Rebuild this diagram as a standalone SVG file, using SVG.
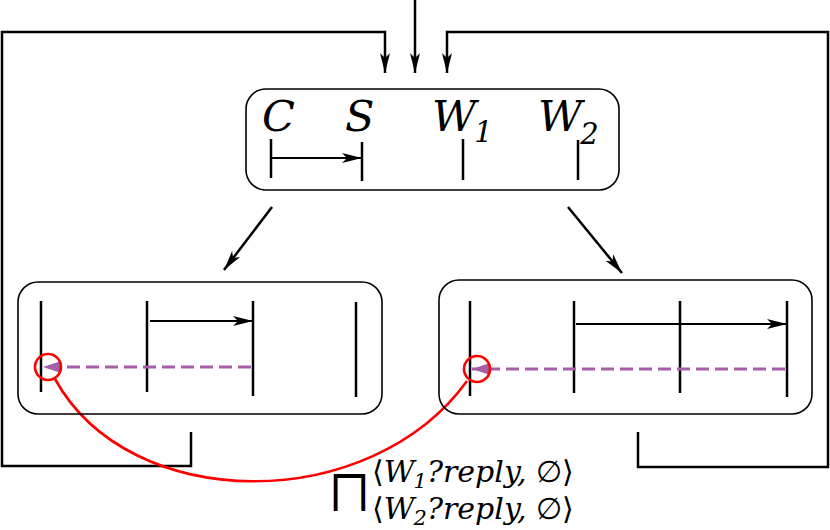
<svg xmlns="http://www.w3.org/2000/svg" width="830" height="530" viewBox="0 0 830 530">
<defs>
<marker id="ah" markerUnits="userSpaceOnUse" markerWidth="24" markerHeight="14" refX="20" refY="7" orient="auto" overflow="visible">
<path d="M0,2 L20,7 L0,12 L5,7 z" fill="#000"/>
</marker>
<marker id="ap" markerUnits="userSpaceOnUse" markerWidth="20" markerHeight="14" refX="18" refY="7" orient="auto" overflow="visible">
<path d="M0,1 L18,7 L0,13 z" fill="#a55ea8"/>
</marker>
</defs>
<style>
.box{fill:none;stroke:#000;stroke-width:1.6}
.ll{stroke:#000;stroke-width:2.5;fill:none}
.msg{stroke:#000;stroke-width:2.2;fill:none;marker-end:url(#ah)}
.rep{stroke:#a55ea8;stroke-width:3;fill:none;stroke-dasharray:13 6;marker-end:url(#ap)}
.con{stroke:#000;stroke-width:2.5;fill:none}
.lab{font-family:"DejaVu Serif",serif;font-style:italic;fill:#000}
.red{stroke:#f00;stroke-width:2.6;fill:none}
</style>
<g id="connectors">
<path class="con" d="M415,0 L415,73" marker-end="url(#ah)"/>
<path class="con" d="M191,432 L191,466 L2,466 L2,32 L385,32 L385,73" marker-end="url(#ah)"/>
<path class="con" d="M638,432 L638,467 L828,467 L828,32 L447,32 L447,73" marker-end="url(#ah)"/>
<path class="con" d="M272,207 L224,270" marker-end="url(#ah)"/>
<path class="con" d="M568,207 L622,273" marker-end="url(#ah)"/>
<path class="red" d="M55,379 C130,515 370,515 467,381"/>
</g>
<g id="top">
<rect class="box" x="246" y="89" width="373" height="101" rx="20"/>
<text class="lab" x="262" y="131" font-size="43">C</text>
<text class="lab" x="345" y="131" font-size="43">S</text>
<text class="lab" x="432" y="131" font-size="43">W<tspan font-size="29" dy="11" dx="-2">1</tspan></text>
<text class="lab" x="538" y="131" font-size="43">W<tspan font-size="29" dy="13" dx="-2">2</tspan></text>
<line class="ll" x1="271" y1="139" x2="271" y2="178"/>
<line class="ll" x1="362" y1="142" x2="362" y2="181"/>
<line class="ll" x1="463" y1="139" x2="463" y2="180"/>
<line class="ll" x1="578" y1="140" x2="578" y2="180"/>
<line class="msg" x1="271" y1="158" x2="362" y2="158"/>
</g>
<g id="left">
<rect class="box" x="18" y="282" width="364" height="132" rx="20"/>
<line class="ll" x1="41" y1="301" x2="41" y2="392"/>
<line class="ll" x1="147" y1="301" x2="147" y2="392"/>
<line class="ll" x1="253" y1="301" x2="253" y2="396"/>
<line class="ll" x1="356" y1="302" x2="356" y2="397"/>
<line class="msg" x1="150" y1="321" x2="253" y2="321"/>
<line class="rep" x1="251" y1="367" x2="43" y2="367"/>
<circle class="red" cx="48" cy="367" r="13"/>
</g>
<g id="right">
<rect class="box" x="439" y="280" width="373" height="134" rx="20"/>
<line class="ll" x1="470" y1="301" x2="470" y2="396"/>
<line class="ll" x1="574" y1="301" x2="574" y2="393"/>
<line class="ll" x1="680" y1="301" x2="680" y2="393"/>
<line class="ll" x1="787" y1="301" x2="787" y2="397"/>
<line class="msg" x1="576" y1="324" x2="787" y2="324"/>
<line class="rep" x1="785" y1="369" x2="472" y2="369"/>
<circle class="red" cx="477" cy="369" r="13"/>
</g>
<g id="label">
<text x="331" y="508" font-family="DejaVu Sans,sans-serif" font-size="46">⨅</text>
<text class="lab" x="372" y="482" font-size="30"><tspan font-style="normal">⟨</tspan>W<tspan font-size="21" dy="6" dx="-1">1</tspan><tspan dy="-6">?reply, </tspan><tspan font-style="normal">∅⟩</tspan></text>
<text class="lab" x="372" y="519" font-size="30"><tspan font-style="normal">⟨</tspan>W<tspan font-size="21" dy="6" dx="-1">2</tspan><tspan dy="-6">?reply, </tspan><tspan font-style="normal">∅⟩</tspan></text>
</g>
</svg>
